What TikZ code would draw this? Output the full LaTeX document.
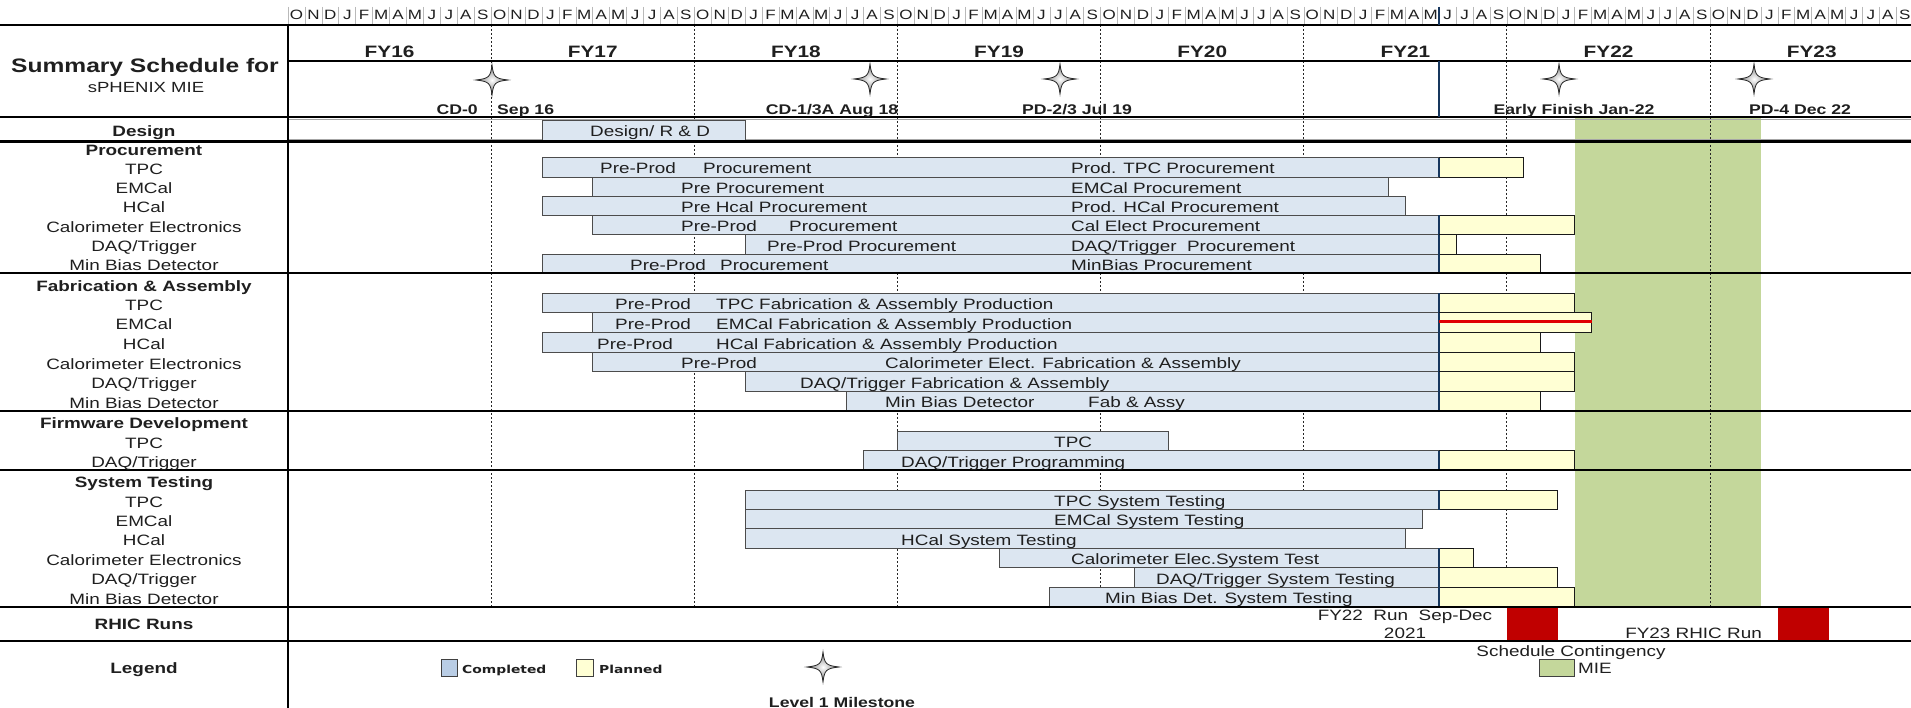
\documentclass[tikz,border=0pt]{standalone}
\usepackage{fontspec}
\setmainfont{Liberation Sans}[FakeStretch=1.26]
\newfontfamily\keyfont{DejaVu Sans}[FakeStretch=1.26]
\usepackage{tikz}
\usetikzlibrary{calc}
\definecolor{colordone}{HTML}{DCE6F1}
\definecolor{colorplan}{HTML}{FFFFD4}
\definecolor{colorstat}{HTML}{17375E}
\definecolor{colorcont}{HTML}{C4D79B}
\definecolor{colorrun}{HTML}{C00000}
\definecolor{colorslip}{HTML}{E00000}
\definecolor{colorkey}{HTML}{B9CDE5}
\tikzset{
  bardone/.style={draw=black!70, fill=colordone, line width=0.9pt},
  barplan/.style={draw=black!90, fill=colorplan, line width=0.9pt},
  statline/.style={colorstat, line width=2.2pt},
  secrule/.style={black, line width=2.4pt},
  fyline/.style={black!85, line width=1pt, dash pattern=on 2pt off 2pt},
  monsep/.style={gray!55, line width=0.6pt},
  txt/.style={inner sep=0pt, text=black!88, font=\fontsize{15}{17}\selectfont},
  bartxt/.style={txt, anchor=base west},
  rowlbl/.style={txt, anchor=base},
  seclbl/.style={rowlbl, font=\bfseries\fontsize{15}{17}\selectfont},
  monlbl/.style={rowlbl, font=\fontsize{13.5}{15}\selectfont},
  fylbl/.style={rowlbl, font=\bfseries\fontsize{16.5}{18}\selectfont},
  mslbl/.style={rowlbl, font=\bfseries\fontsize{14}{16}\selectfont},
  keytxt/.style={txt, anchor=base west, font=\keyfont\bfseries\fontsize{11}{13}\selectfont},
  keybox/.style={draw=black!75, line width=0.9pt},
  mstar/.pic={
    \path[draw=black!85, line width=0.8pt, shading=radial, inner color=white, outer color=black!55]
      (0,-15) .. controls (1.5,-3) and (3,-1.5) .. (16,0)
      .. controls (3,1.5) and (1.5,3) .. (0,15)
      .. controls (-1.5,3) and (-3,1.5) .. (-16,0)
      .. controls (-3,-1.5) and (-1.5,-3) .. (0,-15) -- cycle;
  }
}
\newcommand\monx[1]{288+16.93*(#1)}

\begin{document}
\begin{tikzpicture}[x=1pt, y=-1pt]
\fill[white] (0,0) rectangle (1911,708);
\useasboundingbox (0,0) rectangle (1911,708);

\fill[colorcont] ({\monx{76}},118.5) rectangle ({\monx{87}},606.7);
\foreach \f in {1,...,7}
  \draw[fyline] ({\monx{12*\f}},25) -- ({\monx{12*\f}},606.7);
\draw[gray!70, line width=0.8pt] (288,119.5) -- (1911,119.5) (288,139.5) -- (1911,139.5);

\draw[bardone] ({\monx{15}},120) rectangle ({\monx{27}},140);
\foreach \ya/\yb/\s/\e in {157.7/177/15/68, 177/196.2/18/65, 196.2/215.5/15/66,
    215.5/234.8/18/68, 234.8/254.1/27/68, 254.1/273.3/15/68,
    293.3/312.9/15/68, 312.9/332.5/18/68, 332.5/352.1/15/68,
    352.1/371.7/18/68, 371.7/391.3/27/68, 391.3/410.9/33/68,
    431/450.5/36/52, 450.5/470/34/68,
    490/509.5/27/68, 509.5/528.9/27/67, 528.9/548.4/27/66,
    548.4/567.8/42/68, 567.8/587.3/50/68, 587.3/606.7/45/68}
  \draw[bardone] ({\monx{\s}},\ya) rectangle ({\monx{\e}},\yb);
\foreach \ya/\yb/\e in {157.7/177/73, 215.5/234.8/76, 234.8/254.1/69, 254.1/273.3/74,
    293.3/312.9/76, 312.9/332.5/77, 332.5/352.1/74, 352.1/371.7/76,
    371.7/391.3/76, 391.3/410.9/74, 450.5/470/76,
    490/509.5/75, 548.4/567.8/70, 567.8/587.3/75, 587.3/606.7/76}
{
  \draw[barplan] ({\monx{68}},\ya) rectangle ({\monx{\e}},\yb);
  \draw[statline] ({\monx{68}},\ya) -- ({\monx{68}},\yb);
}
\draw[colorslip, line width=3.5pt] ({\monx{68}},321.7) -- ({\monx{77}},321.7);

\foreach \yy in {25,141.7,273.3,411,470,606.7,641}
  \draw[secrule] (0,\yy) -- (1911,\yy);
\draw[black, line width=1.6pt] (0,117.3) -- (1911,117.3);
\draw[secrule] (288,61) -- (1911,61);
\draw[secrule] (288,25) -- (288,708);

\foreach \k in {0,...,95}
  \draw[monsep] ({\monx{\k}},7) -- ({\monx{\k}},24);
\foreach \f in {0,...,7}
  \foreach \L [count=\k from 0] in {O,N,D,J,F,M,A,M,J,J,A,S}
    \node[monlbl] (m\f-\k) at ({\monx{12*\f+\k+0.5}},20) {\L};
\draw[statline] ({\monx{68}},7) -- ({\monx{68}},25);
\draw[statline] ({\monx{68}},61) -- ({\monx{68}},117.3);

\foreach \n [count=\f from 0] in {16,...,23}
  \node[fylbl] (fy\n) at ({\monx{12*\f+6}},57.6) {FY\n};

\pic (ms1) at (492,80) {mstar};
\pic (ms2) at (870,79) {mstar};
\pic (ms3) at (1060,79) {mstar};
\pic (ms4) at (1559,79) {mstar};
\pic (ms5) at (1754,79) {mstar};
\node[mslbl, anchor=base east] (cd0) at (478,114.5) {CD-0};
\node[mslbl, anchor=base west] (cd0d) at (497,114.5) {Sep 16};
\node[mslbl] (cd1) at (832,114.5) {CD-1/3A Aug 18};
\node[mslbl] (pd2) at (1077,114.5) {PD-2/3 Jul 19};
\node[mslbl] (early) at (1574,114.5) {Early Finish Jan-22};
\node[mslbl] (pd4) at (1800,114.5) {PD-4 Dec 22};

\node[rowlbl, font=\bfseries\fontsize{19.5}{22}\selectfont] (title) at (145,73) {Summary Schedule for};
\node[rowlbl, font=\fontsize{14.7}{17}\selectfont] (proj) at (146,92.8) {sPHENIX MIE};
\foreach \by/\bt [count=\i] in {137/Design, 156/Procurement, 292/Fabrication \& Assembly,
    428.7/Firmware Development, 487/System Testing, 629.4/RHIC Runs, 673.7/Legend}
  \node[seclbl] (s\i) at (144,\by) {\bt};
\foreach \by/\bt [count=\i] in {174.5/TPC, 193.7/EMCal, 213/HCal, 232.3/Calorimeter Electronics,
    251.6/{DAQ/Trigger}, 270.8/Min Bias Detector,
    310.4/TPC, 330/EMCal, 349.6/HCal, 369.2/Calorimeter Electronics,
    388.8/{DAQ/Trigger}, 408.4/Min Bias Detector,
    448/TPC, 467.5/{DAQ/Trigger},
    507/TPC, 526.4/EMCal, 545.9/HCal, 565.3/Calorimeter Electronics,
    584.8/{DAQ/Trigger}, 604.2/Min Bias Detector}
  \node[rowlbl] (r\i) at (144,\by) {\bt};

\foreach \bx/\by/\bt [count=\i] in {590/137/{Design/ R \& D},
    600/174/Pre-Prod, 703/174/Procurement, 1071/174/Prod. TPC Procurement,
    681/193.2/Pre Procurement, 1071/193.2/EMCal Procurement,
    681/212.5/Pre Hcal Procurement, 1071/212.5/Prod. HCal Procurement,
    681/231.8/Pre-Prod, 789/231.8/Procurement, 1071/231.8/Cal Elect Procurement,
    767/251.1/Pre-Prod Procurement, 1071/251.1/{DAQ/Trigger\ \ Procurement},
    630/270.3/Pre-Prod, 720/270.3/Procurement, 1071/270.3/MinBias Procurement,
    615/309.9/Pre-Prod, 716/309.9/TPC Fabrication \& Assembly Production,
    615/329.5/Pre-Prod, 716/329.5/EMCal Fabrication \& Assembly Production,
    597/349.1/Pre-Prod, 716/349.1/HCal Fabrication \& Assembly Production,
    681/368.7/Pre-Prod, 885/368.7/Calorimeter Elect. Fabrication \& Assembly,
    800/388.3/{DAQ/Trigger Fabrication \& Assembly},
    885/407.9/Min Bias Detector, 1088/407.9/Fab \& Assy,
    1054/447.5/TPC, 901/467/{DAQ/Trigger Programming},
    1054/506.5/TPC System Testing, 1054/525.9/EMCal System Testing,
    901/545.4/HCal System Testing, 1071/564.8/Calorimeter Elec.System Test,
    1156/584.3/{DAQ/Trigger System Testing}, 1105/603.7/Min Bias Det. System Testing}
  \node[bartxt] (b\i) at (\bx,\by) {\bt};

\fill[colorrun] ({\monx{72}},607.7) rectangle ({\monx{75}},640);
\fill[colorrun] ({\monx{88}},607.7) rectangle ({\monx{91}},640);
\node[rowlbl] (run22) at (1405,620.4) {FY22\ \ Run\ \ Sep-Dec};
\node[rowlbl] (run22y) at (1405,638) {2021};
\node[txt, anchor=base east] (run23) at (1762,638) {FY23 RHIC Run};

\draw[keybox, fill=colorkey] (441,659) rectangle (457,676);
\node[keytxt] (kdone) at (462,673) {Completed};
\draw[keybox, fill=colorplan] (576,659) rectangle (593,676);
\node[keytxt] (kplan) at (599,673) {Planned};
\pic (kms) at (823,667) {mstar};
\node[mslbl] (kmsl) at (842,707.5) {Level 1 Milestone};
\node[rowlbl] (kcont) at (1571,656.4) {Schedule Contingency};
\draw[keybox, fill=colorcont] (1539,659) rectangle (1574,676);
\node[txt, anchor=base west] (kmie) at (1578,673.4) {MIE};
\end{tikzpicture}
\end{document}
